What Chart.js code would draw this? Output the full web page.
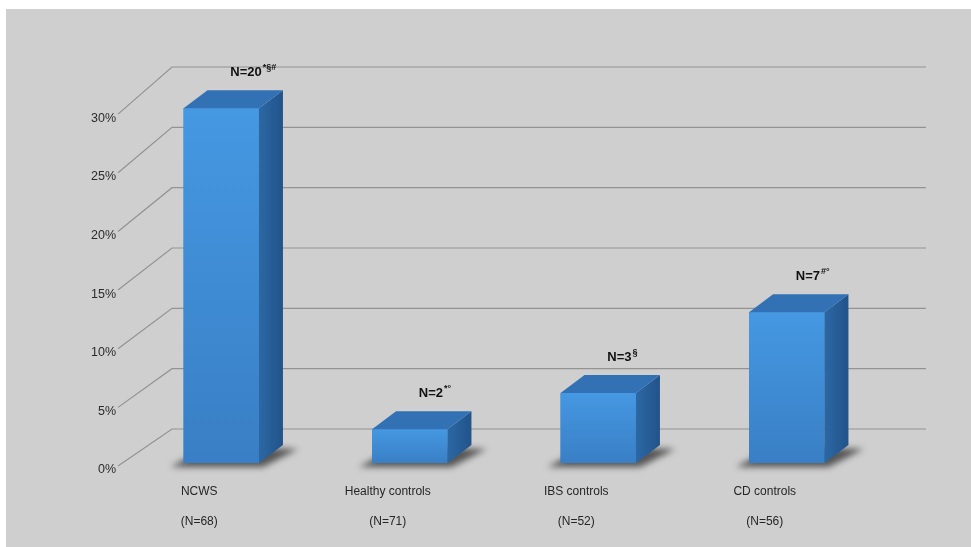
<!DOCTYPE html>
<html>
<head>
<meta charset="utf-8">
<script src="https://cdn.jsdelivr.net/npm/chart.js@4.4.0/dist/chart.umd.min.js"></script>
<style>
html, body { margin: 0; padding: 0; background: #fff; }
#wrap { width: 971px; height: 547px; position: relative; }
</style>
</head>
<body>
<div id="wrap"><canvas id="chart"></canvas></div>
<script>
// data
const categories = ['NCWS', 'Healthy controls', 'IBS controls', 'CD controls'];
const groupSizes = [68, 71, 52, 56];
const percentPositive = [29.4, 2.8, 5.8, 12.5];
const countLabels = ['N=20', 'N=2', 'N=3', 'N=7'];
const significanceMarks = ['*§#', '*°', '§', '#°'];
const yTicks = [0, 5, 10, 15, 20, 25, 30];

// fake 3D: how far the back wall and the bar tops recede
const WALL = { dx: 45, dy: -34 };
const BAR = { dx: 24, dy: -18 };
const FONT = "'Liberation Sans', Arial, sans-serif";

const depthPlugin = {
    id: 'depth3d',
    beforeDraw(chart) {
        const ctx = chart.ctx;
        ctx.save();
        ctx.fillStyle = '#d0cfd0';
        ctx.fillRect(6, 9, chart.width - 6, chart.height - 9);
        ctx.restore();
    },
    beforeDatasetsDraw(chart) {
        const { ctx, chartArea } = chart;
        const y = chart.scales.y;
        const yl = chart.scales.yLabel;
        ctx.save();
        // back wall gridlines with the slanted side wall lines
        ctx.strokeStyle = '#939393';
        ctx.lineWidth = 1.2;
        yTicks.forEach(v => {
            const by = y.getPixelForValue(v) + WALL.dy;
            const ly = yl.getPixelForValue(v);
            ctx.beginPath();
            ctx.moveTo(chartArea.left - 9, ly - 4);
            ctx.lineTo(chartArea.left + WALL.dx, by);
            ctx.lineTo(chartArea.right + WALL.dx, by);
            ctx.stroke();
        });
        // floor shadows
        ctx.filter = 'blur(3px)';
        ctx.fillStyle = 'rgba(55,55,55,0.8)';
        chart.getDatasetMeta(0).data.forEach(bar => {
            const l = bar.x - bar.width / 2, r = bar.x + bar.width / 2, b = bar.base;
            ctx.beginPath();
            ctx.moveTo(l - 13, b + 4);
            ctx.lineTo(r + 4, b + 4);
            ctx.lineTo(r + BAR.dx + 15, b + BAR.dy + 4);
            ctx.lineTo(l + BAR.dx, b + BAR.dy + 2);
            ctx.closePath();
            ctx.fill();
        });
        ctx.restore();
    },
    afterDatasetsDraw(chart) {
        const ctx = chart.ctx;
        ctx.save();
        chart.getDatasetMeta(0).data.forEach((bar, i) => {
            const l = bar.x - bar.width / 2, r = bar.x + bar.width / 2;
            const t = bar.y, b = bar.base;

            // front face shading
            let g = ctx.createLinearGradient(0, t, 0, b);
            g.addColorStop(0, '#4598e2');
            g.addColorStop(1, '#397fc5');
            ctx.fillStyle = g;
            ctx.fillRect(l, t, r - l, b - t);

            // right side face
            g = ctx.createLinearGradient(r, 0, r + BAR.dx, 0);
            g.addColorStop(0, '#2c68a4');
            g.addColorStop(1, '#22538a');
            ctx.fillStyle = g;
            ctx.beginPath();
            ctx.moveTo(r, t);
            ctx.lineTo(r + BAR.dx, t + BAR.dy);
            ctx.lineTo(r + BAR.dx, b + BAR.dy);
            ctx.lineTo(r, b);
            ctx.closePath();
            ctx.fill();

            // top face
            ctx.fillStyle = '#3272b4';
            ctx.beginPath();
            ctx.moveTo(l, t);
            ctx.lineTo(l + BAR.dx, t + BAR.dy);
            ctx.lineTo(r + BAR.dx, t + BAR.dy);
            ctx.lineTo(r, t);
            ctx.closePath();
            ctx.fill();

            // N= label with superscript marks
            const tx = bar.x + 9;
            const ty = t + BAR.dy - 14;
            ctx.fillStyle = '#111';
            ctx.textAlign = 'left';
            ctx.textBaseline = 'alphabetic';
            ctx.font = 'bold 13px ' + FONT;
            ctx.fillText(countLabels[i], tx, ty);
            const w = ctx.measureText(countLabels[i]).width;
            ctx.font = 'bold 9px ' + FONT;
            ctx.fillText(significanceMarks[i], tx + w + 1, ty - 6);
        });
        ctx.restore();
    }
};

const ctx = document.getElementById('chart').getContext('2d');
const chart = new Chart(ctx, {
    type: 'bar',
    data: {
        labels: categories.map((c, i) => [c, '(N=' + groupSizes[i] + ')']),
        datasets: [{
            data: percentPositive,
            backgroundColor: '#3f8bd4',
            borderWidth: 0,
            categoryPercentage: 1,
            barPercentage: 0.4
        }]
    },
    options: {
        responsive: true,
        maintainAspectRatio: false,
        animation: false,
        layout: { padding: { top: 101, right: 90, bottom: 0, left: 0 } },
        plugins: {
            legend: { display: false },
            tooltip: { enabled: false }
        },
        scales: {
            x: {
                grid: { display: false },
                border: { display: false },
                afterFit: axis => { axis.height = 84; },
                ticks: {
                    maxRotation: 0,
                    autoSkip: false,
                    labelOffset: -22,
                    padding: 6,
                    color: '#262626',
                    font: { family: FONT, size: 12, lineHeight: 2.5 }
                }
            },
            y: {
                display: false,
                min: 0,
                max: 30
            },
            yLabel: {
                position: 'left',
                min: 0.6,
                max: 31.46,
                grid: { display: false, drawTicks: false },
                border: { display: false },
                afterBuildTicks: axis => { axis.ticks = yTicks.map(v => ({ value: v })); },
                afterFit: axis => { axis.width = 127; },
                ticks: {
                    padding: 11,
                    autoSkip: false,
                    color: '#2b2b2b',
                    font: { family: FONT, size: 12.5 },
                    callback: v => v + '%'
                }
            }
        }
    },
    plugins: [depthPlugin]
});
</script>
</body>
</html>
